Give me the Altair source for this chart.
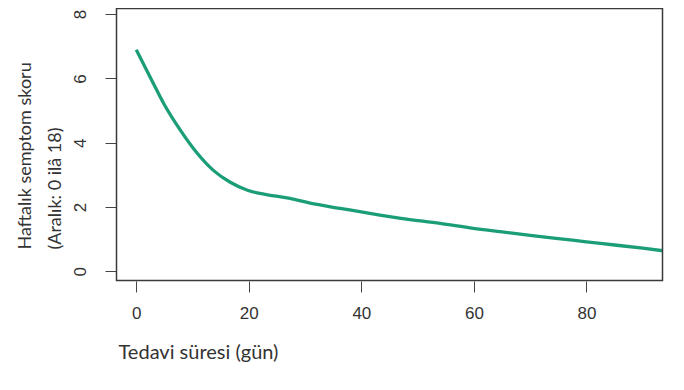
import altair as alt
import pandas as pd

# Data
days = [0, 2.5, 4.85, 7.8, 10.8, 13.7, 16.7, 19.65, 21.7, 24.5, 27.3, 30.9,
        36.2, 43.3, 47, 54, 59.9, 65, 70, 75, 80, 85, 90, 93.6]
score = [6.89, 6.03, 5.23, 4.40, 3.68, 3.14, 2.77, 2.53, 2.43, 2.35, 2.27,
         2.12, 1.96, 1.75, 1.65, 1.49, 1.34, 1.23, 1.12, 1.02, 0.92, 0.82,
         0.72, 0.64]
x_ticks = [0, 20, 40, 60, 80]
y_ticks = [0, 2, 4, 6, 8]
x_title = "Tedavi süresi (gün)"
y_title = ["Haftalık semptom skoru", "(Aralık: 0 ilâ 18)"]

df = pd.DataFrame({"gun": days, "skor": score})

TICK_FONT = "Liberation Sans"
TITLE_FONT = "Lato"
W, H = 547, 273

line = (
    alt.Chart(df)
    .mark_line(color="#1b9e77", strokeWidth=3.3, interpolate="monotone", clip=True)
    .encode(
        x=alt.X(
            "gun:Q",
            scale=alt.Scale(domain=[-3.6, 93.6], nice=False, zero=False),
            axis=alt.Axis(
                values=x_ticks,
                title=x_title,
                domain=False,
                grid=False,
                tickSize=11,
                tickColor="#444",
                labelFont=TICK_FONT,
                labelFontSize=17,
                labelColor="#333",
                labelPadding=13,
                labelBaseline="top",
                titleFont=TITLE_FONT,
                titleFontSize=20,
                titleFontWeight="normal",
                titleColor="#333",
                titleAlign="left",
                titleAnchor="start",
                titleBaseline="alphabetic",
                titleX=2,
                titleY=77,
            ),
        ),
        y=alt.Y(
            "skor:Q",
            scale=alt.Scale(domain=[-0.30, 8.19], nice=False, zero=False),
            axis=alt.Axis(
                values=y_ticks,
                title=y_title,
                domain=False,
                grid=False,
                tickSize=11,
                tickColor="#444",
                labelFont=TICK_FONT,
                labelFontSize=17,
                labelColor="#333",
                labelAngle=270,
                labelAlign="center",
                labelBaseline="middle",
                labelPadding=25,
                titleFont=TITLE_FONT,
                titleFontSize=18,
                titleFontWeight="normal",
                titleColor="#333",
                titleAngle=270,
                titleAlign="left",
                titleBaseline="top",
                titleLineHeight=30,
                titleX=-100,
                titleY=241,
            ),
        ),
    )
)

frame = (
    alt.Chart(pd.DataFrame({"k": [0]}))
    .mark_rect(fill="white", fillOpacity=0, stroke="#3a3a3a", strokeWidth=1.5)
    .encode(x=alt.value(0.5), x2=alt.value(W - 0.5), y=alt.value(0.5), y2=alt.value(H - 0.5))
)

chart = (
    alt.layer(line, frame)
    .properties(
        width=W,
        height=H,
        background="white",
        autosize=alt.AutoSizeParams(type="none"),
        padding={"left": 108, "top": 0, "right": 5, "bottom": 100},
    )
    .configure_view(stroke=None)
)

chart.save("out.html", embed_options={"renderer": "svg", "actions": False})
